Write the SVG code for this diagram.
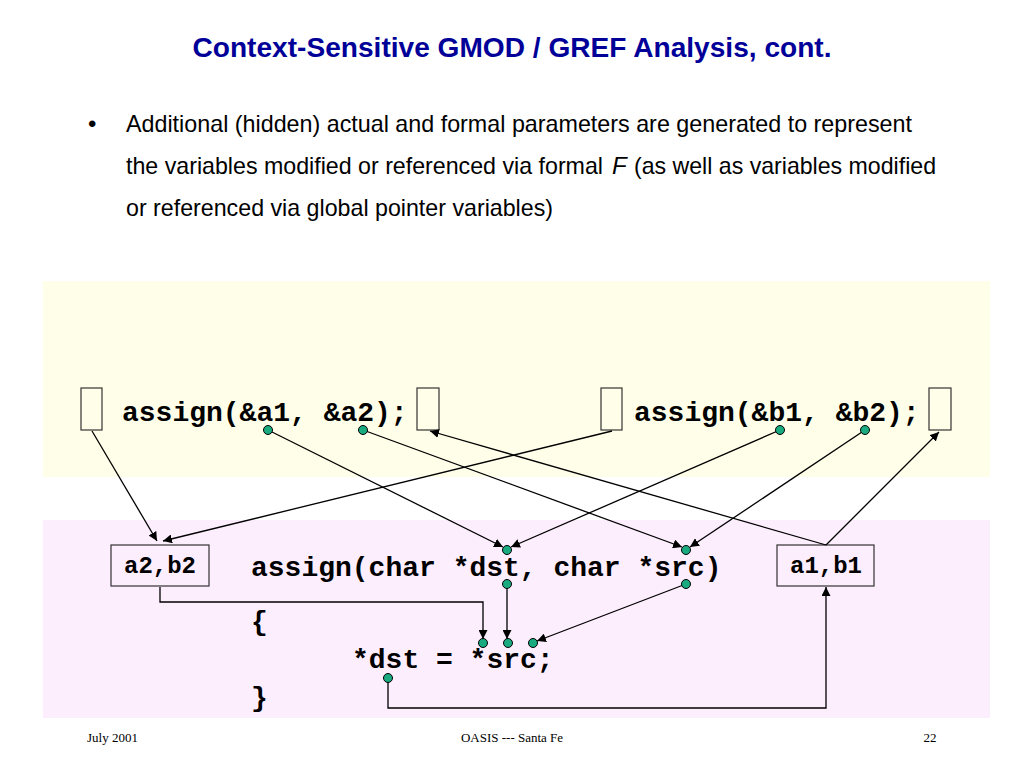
<svg xmlns="http://www.w3.org/2000/svg" width="1024" height="768" viewBox="0 0 1024 768">
<style>
.title{font-family:"Liberation Sans",Arial,sans-serif;font-weight:bold;font-size:28px;fill:#000099}
.body{font-family:"Liberation Sans",Arial,sans-serif;font-size:24px;fill:#000}
.code{font-family:"Liberation Mono","Courier New",monospace;font-weight:bold;font-size:28px;fill:#000}
.lbl{font-family:"Liberation Mono","Courier New",monospace;font-weight:bold;font-size:24px;fill:#000}
.foot{font-family:"Liberation Serif","Times New Roman",serif;font-size:13px;fill:#000}
.box{fill:none;stroke:#333;stroke-width:1.2}
.edge{fill:none;stroke:#000;stroke-width:1.3;marker-end:url(#ah)}
.dot{fill:#1aaa80;stroke:#000;stroke-width:1}
</style>
<defs>
<marker id="ah" viewBox="0 0 10 10" refX="10" refY="5" markerWidth="9" markerHeight="9" markerUnits="userSpaceOnUse" orient="auto">
<path d="M0,0 L10,5 L0,10 z" fill="#000"/>
</marker>
</defs>
<rect width="1024" height="768" fill="#fff"/>
<text class="title" x="512" y="57" text-anchor="middle" textLength="639" lengthAdjust="spacingAndGlyphs">Context-Sensitive GMOD / GREF Analysis, cont.</text>
<text class="body" x="88" y="132">•</text>
<text class="body" x="126" y="132" textLength="786" lengthAdjust="spacingAndGlyphs">Additional (hidden) actual and formal parameters are generated to represent</text>
<text class="body" x="126" y="174" font-size="22.2" textLength="477" lengthAdjust="spacingAndGlyphs">the variables modified or referenced via formal</text>
<text class="body" x="612" y="174" font-style="italic">F</text>
<text class="body" x="634" y="174" font-size="22.2" textLength="302" lengthAdjust="spacingAndGlyphs">(as well as variables modified</text>
<text class="body" x="126" y="216" textLength="427" lengthAdjust="spacingAndGlyphs">or referenced via global pointer variables)</text>

<rect x="43" y="281" width="947" height="196" fill="#fefee9"/>
<rect x="43" y="520" width="947" height="198" fill="#fdeefd"/>

<g id="call1">
<rect id="box1" class="box" x="81" y="388" width="21" height="42"/>
<text class="code" x="122" y="421">assign(&amp;a1, &amp;a2);</text>
<rect id="box2" class="box" x="417" y="388" width="22" height="42"/>
</g>
<g id="call2">
<rect id="box3" class="box" x="601" y="388" width="21" height="42"/>
<text class="code" x="634" y="421">assign(&amp;b1, &amp;b2);</text>
<rect id="box4" class="box" x="929" y="388" width="22" height="42"/>
</g>
<g id="a2b2">
<rect class="box" x="111" y="545" width="98" height="41"/>
<text class="lbl" x="160" y="573" text-anchor="middle">a2,b2</text>
</g>
<g id="a1b1">
<rect class="box" x="777" y="545" width="97" height="41"/>
<text class="lbl" x="826" y="573" text-anchor="middle">a1,b1</text>
</g>
<g id="proc">
<text class="code" x="251" y="576">assign(char *dst, char *src)</text>
<text class="code" x="251" y="630">{</text>
<text class="code" x="352" y="668">*dst = *src;</text>
<text class="code" x="251" y="706">}</text>
</g>

<g id="connectors">
<path class="edge" d="M92,431 L157,541"/>
<path class="edge" d="M612,431 L163,541"/>
<path class="edge" d="M268,430 L503,547"/>
<path class="edge" d="M363,430 L682,547"/>
<path class="edge" d="M780,430 L511,547"/>
<path class="edge" d="M865,430 L690,547"/>
<path class="edge" d="M826,545 L430,431"/>
<path class="edge" d="M826,545 L939,432"/>
<path class="edge" d="M160,587 L160,602 L483,602 L483,639"/>
<path class="edge" d="M507,584 L507,639"/>
<path class="edge" d="M686,584 L537,641"/>
<path class="edge" d="M388,678 L388,708 L826,708 L826,587"/>
</g>
<g id="dots">
<circle class="dot" cx="268" cy="430" r="4.5"/>
<circle class="dot" cx="363" cy="430" r="4.5"/>
<circle class="dot" cx="780" cy="430" r="4.5"/>
<circle class="dot" cx="865" cy="430" r="4.5"/>
<circle class="dot" cx="507" cy="550" r="4.5"/>
<circle class="dot" cx="686" cy="550" r="4.5"/>
<circle class="dot" cx="507" cy="584" r="4.5"/>
<circle class="dot" cx="686" cy="584" r="4.5"/>
<circle class="dot" cx="483" cy="643" r="4.5"/>
<circle class="dot" cx="508" cy="643" r="4.5"/>
<circle class="dot" cx="533" cy="643" r="4.5"/>
<circle class="dot" cx="388" cy="678" r="4.5"/>
</g>

<text class="foot" x="87" y="742">July 2001</text>
<text class="foot" x="512" y="742" text-anchor="middle">OASIS --- Santa Fe</text>
<text class="foot" x="930" y="742" text-anchor="middle">22</text>
</svg>
